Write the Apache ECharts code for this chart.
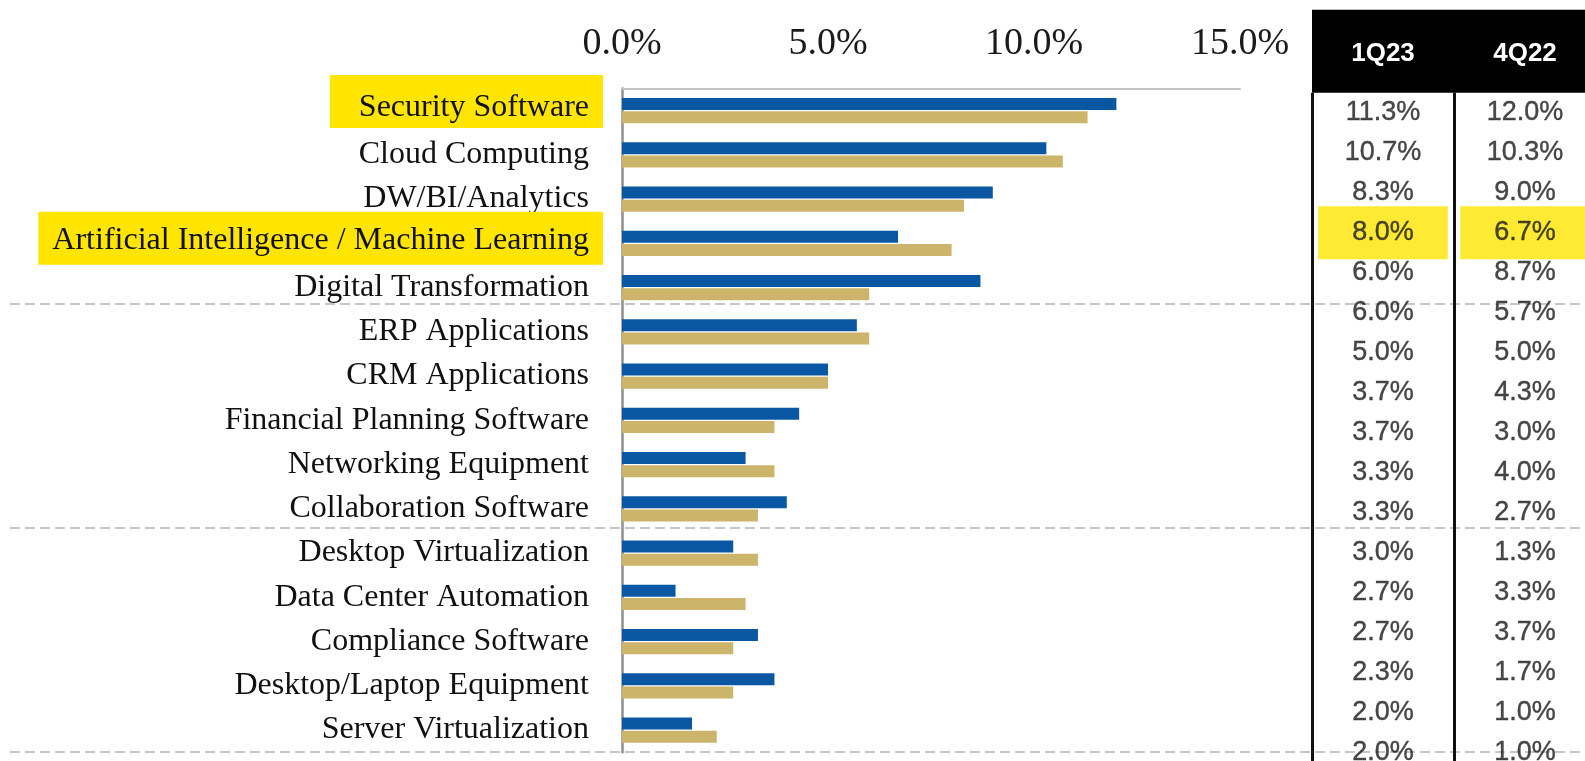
<!DOCTYPE html>
<html>
<head>
<meta charset="utf-8">
<script src="https://cdn.jsdelivr.net/npm/echarts@6/dist/echarts.min.js"></script>
<style>
html,body{margin:0;padding:0;background:#fff;}
#c{width:1585px;height:761px;}
</style>
</head>
<body>
<div id="c"></div>
<script>
// ---- data ----
const categories = [
  'Security Software',
  'Cloud Computing',
  'DW/BI/Analytics',
  'Artificial Intelligence / Machine Learning',
  'Digital Transformation',
  'ERP Applications',
  'CRM Applications',
  'Financial Planning Software',
  'Networking Equipment',
  'Collaboration Software',
  'Desktop Virtualization',
  'Data Center Automation',
  'Compliance Software',
  'Desktop/Laptop Equipment',
  'Server Virtualization'
];
const columns = ['1Q23', '4Q22'];
// table values (the last two rows belong to categories cut off below the picture)
const q123 = [11.3, 10.7, 8.3, 8.0, 6.0, 6.0, 5.0, 3.7, 3.7, 3.3, 3.3, 3.0, 2.7, 2.7, 2.3, 2.0, 2.0];
const q422 = [12.0, 10.3, 9.0, 6.7, 8.7, 5.7, 5.0, 4.3, 3.0, 4.0, 2.7, 1.3, 3.3, 3.7, 1.7, 1.0, 1.0];
const axisMin = 0, axisMax = 15, axisStep = 5;
const highlightedCategories = ['Security Software', 'Artificial Intelligence / Machine Learning'];
const highlightedTableRows = [3];

// ---- styles ----
const BLUE = '#0A58A3';
const TAN = '#CDB46B';
const YELLOW = '#FFE500';
const SERIF = '"Liberation Serif", "Times New Roman", serif';
const SANS = '"Liberation Sans", Arial, sans-serif';

const n = categories.length;
const barsBlue = q422.slice(0, n);
const barsTan = q123.slice(0, n);

function tableData(col, arr) {
  return arr.map(function (v, i) {
    const item = { value: [col, i, v] };
    if (highlightedTableRows.indexOf(i) >= 0) {
      item.label = { backgroundColor: YELLOW, padding: [13, 34] };
    }
    return item;
  });
}

const catStyle = { fontFamily: SERIF, fontSize: 32, color: '#111' };
const tableLabel = {
  show: true, position: 'inside', fontFamily: SANS, fontSize: 27, color: '#1a1a1a',
  textBorderColor: '#1a1a1a', textBorderWidth: 0.4,
  formatter: function (p) { return p.value[2].toFixed(1) + '%'; }
};

const chart = echarts.init(document.getElementById('c'), null, { renderer: 'canvas' });
chart.setOption({
  backgroundColor: '#fff',
  animation: false,
  grid: [
    { left: 622, width: 618, top: 88.4, height: 663.75, containLabel: false, outerBoundsMode: 'none' },
    { left: 1312, width: 284, top: 92.7, height: 680, containLabel: false, outerBoundsMode: 'none' },
    { left: 10, right: 0, top: 80, height: 672, containLabel: false, outerBoundsMode: 'none' }
  ],
  xAxis: [
    {
      gridIndex: 0, type: 'value', position: 'top',
      min: axisMin, max: axisMax, interval: axisStep,
      axisLine: { show: true, lineStyle: { color: '#c4c4c4', width: 2 } },
      axisTick: { show: false },
      splitLine: { show: false },
      axisLabel: {
        margin: 25, fontFamily: SERIF, fontSize: 38, color: '#1a1a1a',
        showMinLabel: true, showMaxLabel: true,
        formatter: function (v) { return v.toFixed(1) + '%'; }
      }
    },
    {
      gridIndex: 1, type: 'category', position: 'top', data: columns,
      axisLine: { show: false },
      axisTick: { show: false },
      splitLine: { show: true, lineStyle: { color: '#111', width: 3 } },
      axisLabel: {
        margin: 0, color: '#fff', fontFamily: SANS, fontWeight: 'bold', fontSize: 26,
        backgroundColor: '#000', width: 142, height: 78, lineHeight: 78, padding: [5, 0, 0, 0],
        align: 'center', verticalAlign: 'bottom',
        interval: 0, showMinLabel: true, showMaxLabel: true, hideOverlap: false
      }
    },
    { gridIndex: 2, type: 'value', show: false, min: 0, max: 1 }
  ],
  yAxis: [
    {
      gridIndex: 0, type: 'category', data: categories, inverse: true,
      axisLine: { show: true, lineStyle: { color: '#8f8f8f', width: 2.5 } },
      axisTick: { show: false },
      splitLine: { show: false },
      axisLabel: {
        margin: 19, interval: 0, showMinLabel: true, showMaxLabel: true, hideOverlap: false,
        formatter: function (v) {
          if (v === highlightedCategories[0]) return '{hlA|' + v + '}\n{spA| }';
          if (v === highlightedCategories[1]) return '{hlB|' + v + '}\n{spB| }';
          return '{n|' + v + '}';
        },
        rich: {
          n: Object.assign({ padding: [0, 14, 0, 0] }, catStyle),
          hlA: Object.assign({ backgroundColor: YELLOW, padding: [17, 14, 4, 29] }, catStyle),
          spA: { fontSize: 1, height: 18, lineHeight: 18 },
          hlB: Object.assign({ backgroundColor: YELLOW, padding: [13, 14, 8, 14] }, catStyle),
          spB: { fontSize: 1, height: 10, lineHeight: 10 }
        }
      }
    },
    { gridIndex: 1, type: 'value', show: false, inverse: true, min: -0.5, max: 16.5 },
    {
      gridIndex: 2, type: 'value', inverse: true, min: 0, max: 15, interval: 5,
      axisLine: { show: false }, axisTick: { show: false }, axisLabel: { show: false },
      splitLine: {
        show: true, showMinLine: false,
        lineStyle: { color: '#c6c6c6', width: 2, type: [10, 5] }
      }
    }
  ],
  series: [
    {
      name: '4Q22', type: 'bar', xAxisIndex: 0, yAxisIndex: 0,
      data: barsBlue, barWidth: 12, barGap: '10%',
      itemStyle: { color: BLUE }, z: 3
    },
    {
      name: '1Q23', type: 'bar', xAxisIndex: 0, yAxisIndex: 0,
      data: barsTan, barWidth: 12, barGap: '10%',
      itemStyle: { color: TAN }, z: 3
    },
    {
      name: 'table 1Q23', type: 'scatter', xAxisIndex: 1, yAxisIndex: 1,
      symbolSize: 0, data: tableData(columns[0], q123), z: 5,
      label: tableLabel
    },
    {
      name: 'table 4Q22', type: 'scatter', xAxisIndex: 1, yAxisIndex: 1,
      symbolSize: 0, data: tableData(columns[1], q422), z: 5,
      label: tableLabel
    }
  ]
});
</script>
</body>
</html>
